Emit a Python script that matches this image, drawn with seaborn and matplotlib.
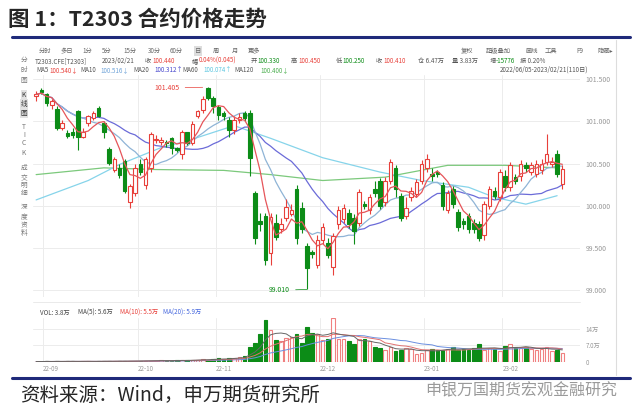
import numpy as np
import pandas as pd
import matplotlib
matplotlib.use("Agg")
import matplotlib.pyplot as plt
import seaborn as sns

# ---- data ----
opens = [101.30, 101.37, 101.32, 101.20, 101.15, 100.92, 100.86, 100.87, 101.12, 100.82,
         100.98, 101.04, 101.16, 100.98, 100.67, 100.43, 100.45, 100.53, 100.04, 100.15,
         100.50, 100.25, 100.45, 100.78, 100.76, 100.76, 100.80, 100.68, 100.62, 100.87,
         100.74, 101.06, 101.13, 101.40, 101.28, 101.17, 101.10, 101.02, 100.90, 101.02,
         101.10, 101.10, 100.15, 99.82, 99.88, 99.44, 99.80, 99.72, 99.86, 99.90,
         100.20, 99.98, 99.52, 99.45, 99.30, 99.60, 99.56, 99.27, 99.78, 99.84,
         99.92, 99.86, 99.80, 100.02, 99.95, 100.20, 100.30, 100.05, 100.30, 100.45,
         100.12, 99.88, 100.10, 100.14, 100.30, 100.45, 100.38, 100.40, 100.25, 99.95,
         100.20, 99.93, 99.82, 99.88, 99.80, 99.78, 99.65, 100.00, 100.18, 100.10,
         100.35, 100.22, 100.34, 100.35, 100.48, 100.40, 100.38, 100.42, 100.52, 100.50,
         100.62, 100.26]
closes = [101.32, 101.35, 101.22, 101.24, 100.92, 100.98, 100.83, 100.84, 100.82, 100.88,
          101.06, 101.10, 101.07, 100.88, 100.51, 100.56, 100.36, 100.18, 100.24, 100.45,
          100.40, 100.55, 100.85, 100.79, 100.78, 100.75, 100.68, 100.66, 100.87, 100.74,
          100.97, 101.12, 101.27, 101.28, 101.18, 101.08, 101.07, 100.90, 101.02, 101.05,
          101.04, 100.57, 99.62, 99.79, 99.36, 99.87, 99.63, 99.78, 99.99, 99.95,
          99.62, 99.72, 99.26, 99.43, 99.60, 99.75, 99.42, 99.64, 99.95, 99.98,
          99.78, 99.70, 100.16, 100.00, 100.10, 100.15, 100.00, 100.30, 100.52, 100.20,
          99.86, 99.98, 100.18, 100.28, 100.50, 100.55, 100.35, 100.38, 100.00, 100.15,
          100.02, 99.75, 99.78, 99.72, 99.72, 99.62, 100.02, 100.20, 100.12, 100.40,
          100.22, 100.48, 100.30, 100.50, 100.45, 100.48, 100.50, 100.50, 100.62, 100.52,
          100.38, 100.44]
highs = [101.36, 101.40, 101.34, 101.27, 101.18, 101.02, 100.90, 100.92, 101.14, 100.92,
         101.08, 101.12, 101.18, 101.00, 100.70, 100.58, 100.50, 100.55, 100.26, 100.50,
         100.55, 100.58, 100.88, 100.84, 100.82, 100.78, 100.82, 100.70, 100.90, 100.88,
         101.00, 101.14, 101.30, 101.405, 101.30, 101.20, 101.12, 101.05, 101.06, 101.10,
         101.12, 101.14, 100.18, 99.92, 99.92, 99.92, 99.90, 99.85, 100.08, 100.02,
         100.25, 100.05, 99.56, 99.48, 99.65, 99.80, 99.62, 99.68, 100.00, 100.02,
         99.96, 99.90, 100.20, 100.06, 100.14, 100.30, 100.33, 100.34, 100.56, 100.48,
         100.15, 100.10, 100.22, 100.32, 100.54, 100.62, 100.45, 100.43, 100.28, 100.19,
         100.24, 99.96, 99.86, 99.92, 99.84, 99.82, 100.06, 100.24, 100.22, 100.44,
         100.42, 100.52, 100.38, 100.54, 100.52, 100.52, 100.54, 100.55, 100.85, 100.58,
         100.66, 100.48]
lows = [101.24, 101.32, 101.18, 101.15, 100.90, 100.90, 100.80, 100.80, 100.66, 100.80,
        100.95, 101.02, 101.05, 100.80, 100.48, 100.40, 100.33, 100.15, 99.97, 100.12,
        100.36, 100.20, 100.40, 100.74, 100.72, 100.70, 100.62, 100.64, 100.55, 100.72,
        100.72, 101.04, 101.10, 101.25, 101.10, 101.02, 101.02, 100.82, 100.85, 100.98,
        101.00, 100.35, 99.55, 99.70, 99.30, 99.30, 99.60, 99.68, 99.82, 99.88,
        99.55, 99.68, 99.01, 99.38, 99.26, 99.55, 99.38, 99.18, 99.72, 99.80,
        99.74, 99.55, 99.76, 99.96, 99.90, 100.10, 99.96, 100.00, 100.26, 100.10,
        99.82, 99.84, 100.06, 100.10, 100.26, 100.40, 100.30, 100.34, 99.95, 99.92,
        99.98, 99.70, 99.72, 99.68, 99.68, 99.58, 99.60, 99.96, 100.08, 100.06,
        100.18, 100.18, 100.26, 100.30, 100.40, 100.36, 100.34, 100.38, 100.48, 100.46,
        100.34, 100.20]
# volume, in 万 lots
volume = ([0.2, 0.2, 0.3, 0.2, 0.3, 0.2, 0.3, 0.3, 0.2, 0.3, 0.3, 0.2, 0.3, 0.3, 0.4, 0.3, 0.4, 0.3, 0.4,
           0.5, 0.4, 0.6, 0.5, 0.6, 0.7, 0.5, 0.6, 0.7, 0.8, 0.7, 0.8, 1.0, 1.2, 1.0, 1.3, 1.5, 1.2, 1.6,
           1.8, 2.2, 2.5]
          + [6.5, 7.9, 11.8, 17.5, 13.5, 9.4, 8.7, 10.0, 10.5, 11.8, 7.9, 14.8, 12.3, 11.8, 9.4, 9.6,
             18.3, 9.8, 9.5, 8.7, 7.4, 9.6, 9.6, 8.7, 6.1, 5.8, 5.2, 6.1, 4.8, 5.2, 5.8, 5.5, 3.5, 3.8,
             5.2, 5.5, 5.2, 4.9, 5.5, 6.1, 5.2, 5.5, 5.2, 5.8, 7.4, 5.2, 5.8, 5.5, 4.8, 6.7, 7.4, 6.1,
             5.9, 6.1, 5.5, 5.2, 5.5, 6.1, 4.8, 5.2, 3.8])
# long moving averages, sampled by eye (candle index -> price)
ma60_idx = [0, 10, 16, 24, 29, 38, 45, 55, 66, 74, 83, 88, 94, 100]
ma60_val = [100.07, 100.30, 100.49, 100.69, 100.77, 100.95, 100.80, 100.57, 100.40, 100.30, 100.22,
            100.10, 100.02, 100.12]
ma120_idx = [0, 13, 23, 36, 45, 55, 67, 79, 90, 100]
ma120_val = [100.37, 100.45, 100.43, 100.42, 100.37, 100.30, 100.34, 100.48, 100.48, 100.45]
month_labels = ["22-09", "22-10", "22-11", "22-12", "23-01", "23-02"]
month_pos = [1.3, 19.5, 34.5, 54.5, 74.5, 89.5]

df = pd.DataFrame({"open": opens, "close": closes, "high": highs, "low": lows, "vol": volume})
df["i"] = np.arange(len(df))
df["ma5"] = df["close"].rolling(5, min_periods=1).mean()
df["ma10"] = df["close"].rolling(10, min_periods=1).mean()
df["ma20"] = df["close"].rolling(20, min_periods=1).mean()
df["vma5"] = df["vol"].rolling(5, min_periods=1).mean()
df["vma10"] = df["vol"].rolling(10, min_periods=1).mean()
df["vma20"] = df["vol"].rolling(20, min_periods=1).mean()
up = df["close"] >= df["open"]

sns.set_theme(style="white")
plt.rcParams["font.family"] = ["Noto Sans CJK SC", "DejaVu Sans"]

RED = "#e8403a"
GREEN = "#0c8c17"
GRID = "#ececec"
W, H = 640, 418
fig = plt.figure(figsize=(6.4, 4.18), dpi=100)

def fx(px):
    return px / W

def fy(py):
    return 1 - py / H

xlim = (-0.6, (580 - 33) / 5.24)

# ---- price panel ----
ax = fig.add_axes([fx(33), fy(297), fx(580 - 33), fy(75) - fy(297)])
ax.vlines(df["i"], df["low"], df["high"], colors=np.where(up, RED, GREEN), lw=0.8, zorder=2)
body = (df["close"] - df["open"]).abs().clip(lower=0.012)
bottom = df[["open", "close"]].min(axis=1)
ax.bar(df["i"][up], body[up], bottom=bottom[up], width=0.68, color="white", edgecolor=RED, lw=0.8, zorder=3)
ax.bar(df["i"][~up], body[~up], bottom=bottom[~up], width=0.68, color=GREEN, edgecolor=GREEN, lw=0.8, zorder=3)
sns.lineplot(x=ma120_idx, y=ma120_val, ax=ax, color="#7cc97c", lw=0.9, zorder=1)
sns.lineplot(x=ma60_idx, y=ma60_val, ax=ax, color="#86d4ea", lw=0.9, zorder=1)
sns.lineplot(data=df, x="i", y="ma20", ax=ax, color="#6b6bd8", lw=0.9, zorder=1)
sns.lineplot(data=df, x="i", y="ma10", ax=ax, color="#8fb4d6", lw=0.9, zorder=1)
sns.lineplot(data=df, x="i", y="ma5", ax=ax, color="#e6555a", lw=0.9, zorder=4)
ax.set_xlim(*xlim)
ax.set_ylim(98.92, 101.55)
ax.set_yticks([99.0, 99.5, 100.0, 100.5, 101.0, 101.5])
ax.set_yticklabels(["99.000", "99.500", "100.000", "100.500", "101.000", "101.500"])
ax.yaxis.tick_right()
ax.tick_params(axis="y", labelsize=5, colors="#999999", length=0, pad=4)
ax.set_xticks(month_pos)
ax.set_xticklabels([])
ax.tick_params(axis="x", length=0)
ax.grid(True, color=GRID, lw=0.7)
ax.set_xlabel("")
ax.set_ylabel("")
for s in ax.spines.values():
    s.set_visible(False)
hi_i = int(np.argmax(highs))
lo_i = int(np.argmin(lows))
ax.annotate("101.405", (hi_i - 0.5, highs[hi_i]), xytext=(-28, -2), textcoords="offset points",
            fontsize=5, color=RED, ha="center", arrowprops=dict(arrowstyle="-", color=RED, lw=0.5))
ax.annotate("99.010", (lo_i + 0.5, lows[lo_i]), xytext=(-22, -2), textcoords="offset points",
            fontsize=5, color=GREEN, ha="center", arrowprops=dict(arrowstyle="-", color=GREEN, lw=0.5))

# ---- volume panel ----
vx = fig.add_axes([fx(33), fy(362), fx(580 - 33), fy(318) - fy(362)])
vx.bar(df["i"][up], df["vol"][up], width=0.68, color="white", edgecolor="#f08080", lw=0.8)
vx.bar(df["i"][~up], df["vol"][~up], width=0.68, color=GREEN, edgecolor=GREEN, lw=0.8)
sns.lineplot(data=df, x="i", y="vma20", ax=vx, color="#6b8fe0", lw=0.7)
sns.lineplot(data=df, x="i", y="vma10", ax=vx, color="#e07070", lw=0.7)
sns.lineplot(data=df, x="i", y="vma5", ax=vx, color="#666666", lw=0.7)
vx.set_xlim(*xlim)
vx.set_ylim(0, 18.5)
vx.set_yticks([0, 7, 14])
vx.set_yticklabels(["0", "7.0万", "14万"])
vx.yaxis.tick_right()
vx.tick_params(axis="y", labelsize=4.5, colors="#999999", length=0, pad=4)
vx.set_xticks(month_pos)
vx.set_xticklabels(month_labels)
vx.tick_params(axis="x", labelsize=4.5, colors="#999999", length=0, pad=2)
for lab in vx.get_xticklabels():
    lab.set_horizontalalignment("left")
vx.grid(True, color=GRID, lw=0.7)
vx.set_xlabel("")
vx.set_ylabel("")
for s in vx.spines.values():
    s.set_visible(False)

# ---- frame, header and toolbar texts ----
fig.text(fx(8), fy(19), "图 1：T2303 合约价格走势", fontsize=15.5, fontweight="bold", va="center")
fig.add_artist(plt.Line2D([fx(12), fx(630)], [fy(37), fy(37)], color="#1f2a7a", lw=2.2))
fig.add_artist(plt.Line2D([fx(12), fx(630)], [fy(378), fy(378)], color="#1f2a7a", lw=2.2))
fig.add_artist(plt.Line2D([fx(616), fx(616)], [fy(40), fy(375)], color="#dddddd", lw=0.8))
fig.add_artist(plt.Line2D([fx(33), fx(580)], [fy(302), fy(302)], color="#e6e6e6", lw=0.6))

tools = ["分时", "多日", "1分", "5分", "15分", "30分", "60分", "日", "周", "月", "更多"]
tx = [39, 61, 82, 102, 123, 148, 170, 195, 213, 232, 248]
for t, x in zip(tools, tx):
    fig.text(fx(x), fy(51), t, fontsize=4.5, color="#666666", va="center",
             bbox=dict(fc="#dddddd", ec="none", pad=0.6) if t == "日" else None)
for t, x in [("复权", 461), ("超级叠加", 486), ("画线", 525), ("工具", 545), ("F9", 576), ("隐藏▸", 598)]:
    fig.text(fx(x), fy(51), t, fontsize=4.5, color="#666666", va="center")

row2 = [("T2303.CFE[T2303]", 35, "#555555"), ("2023/02/21", 102, "#555555"), ("收", 145, "#555555"),
        ("100.440", 152, RED), ("幅", 192, "#555555"), ("0.04%(0.045)", 199, RED),
        ("开", 251, "#555555"), ("100.330", 257, GREEN), ("高", 291, "#555555"), ("100.450", 298, RED),
        ("低", 336, "#555555"), ("100.250", 342, GREEN), ("收", 376, "#555555"), ("100.410", 383, RED),
        ("仓 6.47万", 418, "#555555"), ("量 3.83万", 452, "#555555"), ("增", 490, "#555555"),
        ("-15776", 496, GREEN), ("振 0.20%", 520, "#555555")]
for t, x, c in row2:
    fig.text(fx(x), fy(61), t, fontsize=4.5, color=c, va="center")
row3 = [("MA5", 36, "#555555"), ("100.540↓", 49, RED), ("MA10", 80, "#555555"), ("100.516↓", 100, "#6fa3d8"),
        ("MA20", 133, "#555555"), ("100.312↑", 154, "#4444cc"), ("MA60", 182, "#555555"),
        ("100.074↑", 203, "#5cc6e0"), ("MA120", 234, "#555555"), ("100.400↓", 260, "#4caf50")]
for t, x, c in row3:
    fig.text(fx(x), fy(70), t, fontsize=4.5, color=c, va="center")
fig.text(fx(500), fy(70), "2022/06/05-2023/02/21(110日)", fontsize=4.5, color="#555555", va="center")

side_chars = ["分", "时", "图", "K", "线", "图", "T", "I", "C", "K", "成", "交", "明", "细", "深", "度", "资", "料"]
side_y = [60, 70, 80, 95, 104, 113, 127, 135, 143, 153, 168, 178, 185, 193, 207, 217, 225, 233]
for i, (t, y) in enumerate(zip(side_chars, side_y)):
    fig.text(fx(24), fy(y), t, fontsize=4.8, color="#333333" if 3 <= i <= 5 else "#777777",
             va="center", ha="center",
             bbox=dict(fc="#e2e2e2", ec="none", pad=0.4) if 3 <= i <= 5 else None)

vol_leg = [("VOL: 3.8万", 40, "#444444"), ("MA(5): 5.6万", 78, "#444444"),
           ("MA(10): 5.5万", 120, RED), ("MA(20): 5.9万", 163, "#4466dd")]
for t, x, c in vol_leg:
    fig.text(fx(x), fy(313), t, fontsize=4.5, color=c, va="center")

fig.text(fx(20), fy(395), "资料来源：Wind，申万期货研究所", fontsize=14, va="center")
fig.text(fx(425), fy(391), "申银万国期货宏观金融研究", fontsize=11.5, color="#9a9a9a", va="center")

fig.savefig("out.png", dpi=100)
